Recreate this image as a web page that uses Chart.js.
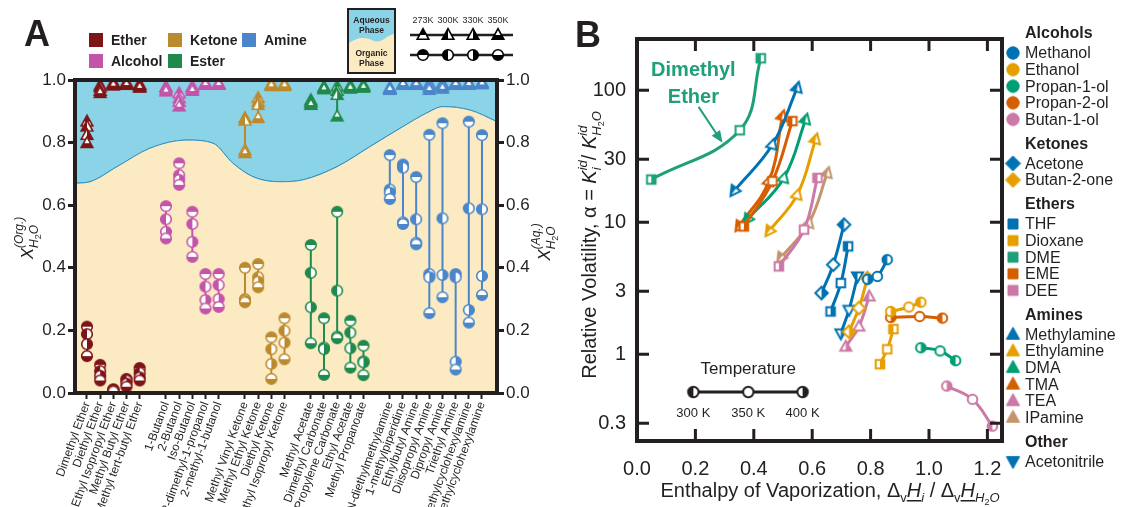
<!DOCTYPE html>
<html>
<head>
<meta charset="utf-8">
<script src="https://cdn.jsdelivr.net/npm/chart.js@4.4.1/dist/chart.umd.min.js"></script>
<style>
  body { margin: 0; background: #fff; }
  #wrap { position: relative; width: 1123px; height: 507px; overflow: hidden; }
  #chartA { position: absolute; left: 0; top: 0; }
  #chartB { position: absolute; left: 560px; top: 0; }
</style>
</head>
<body>
<div id="wrap">
  <canvas id="chartA" width="560" height="507"></canvas>
  <canvas id="chartB" width="563" height="507"></canvas>
</div>
<script>
// ---------- Panel A data: water mole fraction in each phase ----------
const compoundsA = [
  'Dimethyl Ether', 'Diethyl Ether', 'Ethyl Isopropyl Ether', 'Methyl Butyl Ether', 'Methyl tert-butyl Ether',
  '1-Butanol', '2-Butanol', 'Iso-Butanol', '2,2-dimethyl-1-propanol', '2-methyl-1-butanol',
  'Methyl Vinyl Ketone', 'Methyl Ethyl Ketone', 'Diethyl Ketone', 'Methyl Isopropyl Ketone',
  'Methyl Acetate', 'Dimethyl Carbonate', 'Propylene Carbonate', 'Ethyl Acetate', 'Methyl Propanoate',
  'N,N-diethylmethylamine', '1-methylpiperidine', 'Ethylbutyl Amine', 'Diisopropyl Amine',
  'Dipropyl Amine', 'Triethyl Amine', 'N-methylcyclohexylamine', 'N,N-dimethylcyclohexylamine'
];
const groupA = [
  'Ether', 'Ether', 'Ether', 'Ether', 'Ether',
  'Alcohol', 'Alcohol', 'Alcohol', 'Alcohol', 'Alcohol',
  'Ketone', 'Ketone', 'Ketone', 'Ketone',
  'Ester', 'Ester', 'Ester', 'Ester', 'Ester',
  'Amine', 'Amine', 'Amine', 'Amine', 'Amine', 'Amine', 'Amine', 'Amine'
];
const slotA = [0, 1, 2, 3, 4, 6, 7, 8, 9, 10, 12, 13, 14, 15, 17, 18, 19, 20, 21, 23, 24, 25, 26, 27, 28, 29, 30];
const tempsA = ['273K', '300K', '330K', '350K'];

// organic phase (circles), 273 / 300 / 330 / 350 K
const orgWaterA = [
  [0.212, 0.188, 0.156, 0.118], [0.09, 0.07, 0.055, 0.04], [0.012, 0.009, 0.007, 0.005],
  [0.045, 0.04, 0.03, 0.02], [0.08, 0.065, 0.05, 0.04],
  [0.597, 0.555, 0.515, 0.494], [0.734, 0.696, 0.681, 0.665], [0.579, 0.54, 0.483, 0.435],
  [0.38, 0.34, 0.297, 0.27], [0.38, 0.345, 0.30, 0.275],
  [0.40, 0.30, 0.295, 0.29], [0.412, 0.37, 0.356, 0.338], [0.178, 0.14, 0.093, 0.045], [0.239, 0.199, 0.161, 0.108],
  [0.473, 0.384, 0.274, 0.159], [0.239, 0.145, 0.14, 0.058], [0.579, 0.327, 0.18, 0.175],
  [0.231, 0.193, 0.143, 0.081], [0.151, 0.101, 0.098, 0.057],
  [0.76, 0.65, 0.64, 0.62], [0.73, 0.72, 0.545, 0.54], [0.69, 0.555, 0.48, 0.475], [0.825, 0.38, 0.37, 0.255],
  [0.862, 0.558, 0.377, 0.306], [0.38, 0.37, 0.1, 0.075], [0.867, 0.59, 0.265, 0.225], [0.824, 0.587, 0.374, 0.313]
];
// aqueous phase (triangles)
const aqWaterA = [
  [0.867, 0.851, 0.824, 0.798], [0.982, 0.976, 0.965, 0.958], [0.99, 0.988, 0.985, 0.982],
  [0.99, 0.988, 0.986, 0.984], [0.985, 0.982, 0.978, 0.975],
  [0.978, 0.975, 0.968, 0.963], [0.957, 0.941, 0.93, 0.915], [0.978, 0.975, 0.97, 0.965],
  [0.988, 0.986, 0.985, 0.984], [0.988, 0.986, 0.985, 0.984],
  [0.878, 0.87, 0.775, 0.766], [0.942, 0.93, 0.92, 0.878], [0.986, 0.984, 0.982, 0.98], [0.986, 0.984, 0.982, 0.98],
  [0.935, 0.93, 0.925, 0.92], [0.978, 0.975, 0.972, 0.97], [0.979, 0.965, 0.952, 0.883],
  [0.98, 0.978, 0.975, 0.972], [0.982, 0.98, 0.978, 0.975],
  [0.975, 0.972, 0.97, 0.968], [0.988, 0.986, 0.985, 0.984], [0.99, 0.988, 0.986, 0.984], [0.988, 0.982, 0.975, 0.968],
  [0.988, 0.984, 0.978, 0.972], [0.99, 0.988, 0.986, 0.984], [0.99, 0.988, 0.986, 0.984], [0.992, 0.99, 0.988, 0.986]
];
// boundary between the aqueous (top) and organic (bottom) shading
const phaseEdgeSlot = [-0.91, 0.23, 2.28, 4.78, 7.59, 9.57, 11.09, 12.61, 14.66, 16.4, 18.99, 21.49, 23.99, 25.82, 27.04, 29.09, 31.14];
const phaseEdgeX = [0.670, 0.675, 0.723, 0.782, 0.808, 0.798, 0.734, 0.691, 0.675, 0.681, 0.723, 0.787, 0.851, 0.895, 0.915, 0.904, 0.867];
const yTicksA = [0, 0.2, 0.4, 0.6, 0.8, 1.0];

// ---------- Panel B data: relative volatility vs enthalpy ratio (300, 350, 400 K) ----------
const speciesB = ['Methanol', 'Ethanol', 'Propan-1-ol', 'Propan-2-ol', 'Butan-1-ol',
  'Acetone', 'Butan-2-one', 'THF', 'Dioxane', 'DME', 'EME', 'DEE',
  'Methylamine', 'Ethylamine', 'DMA', 'TMA', 'TEA', 'IPamine', 'Acetonitrile'];
const familyB = ['Alcohols', 'Alcohols', 'Alcohols', 'Alcohols', 'Alcohols',
  'Ketones', 'Ketones', 'Ethers', 'Ethers', 'Ethers', 'Ethers', 'Ethers',
  'Amines', 'Amines', 'Amines', 'Amines', 'Amines', 'Amines', 'Other'];
const enthalpyB = [
  [0.857, 0.823, 0.79], [0.972, 0.931, 0.869], [1.091, 1.038, 0.972], [1.046, 0.968, 0.869], [1.217, 1.149, 1.061],
  [0.709, 0.672, 0.632], [0.789, 0.76, 0.726],
  [0.723, 0.698, 0.663], [0.878, 0.857, 0.832], [0.424, 0.352, 0.049], [0.532, 0.464, 0.366], [0.618, 0.572, 0.486],
  [0.549, 0.464, 0.332], [0.612, 0.549, 0.452], [0.578, 0.503, 0.378], [0.498, 0.452, 0.349],
  [0.795, 0.76, 0.715], [0.652, 0.589, 0.492], [0.755, 0.726, 0.698]
];
const volatilityB = [
  [5.21, 3.89, 3.7], [2.48, 2.28, 2.11], [0.894, 1.06, 1.12], [1.88, 1.93, 1.90], [0.285, 0.455, 0.574],
  [9.6, 4.77, 2.91], [3.78, 2.24, 1.48],
  [6.57, 3.46, 2.11], [1.55, 1.09, 0.84], [175, 49.8, 21.1], [58.5, 20.5, 9.3], [21.7, 8.8, 4.63],
  [105, 38.9, 17.2], [42.7, 16.2, 8.54], [60.3, 21.7, 10.5], [63.9, 20.5, 9.3],
  [2.74, 1.62, 1.14], [23.7, 9.9, 5.36], [3.89, 2.17, 1.44]
];
const tempsB = ['300 K', '350 K', '400 K'];
const xTicksB = [0, 0.2, 0.4, 0.6, 0.8, 1.0, 1.2];
const yTicksB = [0.3, 1, 3, 10, 30, 100];

// ---------- styles ----------
const FONT = '"Liberation Sans", Arial, sans-serif';
const INK = '#231F20';
Chart.defaults.font.family = FONT;
Chart.defaults.color = INK;

const colorsA = { Ether: '#7D1417', Alcohol: '#C255AA', Ketone: '#BC8A2E', Ester: '#1F8A4C', Amine: '#4A86C9' };
const fillA = ['top', 'left', 'right', 'bottom'];
const colorsB = ['#0072B2', '#E69F00', '#009E73', '#D55E00', '#CC79A7',
  '#0072B2', '#E69F00', '#0072B2', '#E69F00', '#1FA07A', '#D55E00', '#CC79A7',
  '#0072B2', '#E69F00', '#009E73', '#D55E00', '#CC79A7', '#C4956A', '#0072B2'];
const shapeB = { Alcohols: 'circle', Ketones: 'diamond', Ethers: 'square', Amines: 'triangle', Other: 'triangleDown' };
const fillB = ['left', 'open', 'right'];

// marker images with partial fills (temperature code)
function shapePath(g, shape, c, r) {
  g.beginPath();
  if (shape === 'circle') g.arc(c, c, r, 0, Math.PI * 2);
  else if (shape === 'square') g.rect(c - r, c - r, 2 * r, 2 * r);
  else if (shape === 'diamond') { g.moveTo(c, c - r * 1.25); g.lineTo(c + r * 1.25, c); g.lineTo(c, c + r * 1.25); g.lineTo(c - r * 1.25, c); g.closePath(); }
  else if (shape === 'triangle') { g.moveTo(c, c - r * 1.2); g.lineTo(c + r * 1.1, c + r * 0.8); g.lineTo(c - r * 1.1, c + r * 0.8); g.closePath(); }
  else if (shape === 'triangleDown') { g.moveTo(c, c + r * 1.2); g.lineTo(c + r * 1.1, c - r * 0.8); g.lineTo(c - r * 1.1, c - r * 0.8); g.closePath(); }
}
const markerCache = {};
function makeMarker(shape, color, fill, r, lw) {
  const key = [shape, color, fill, r, lw].join('|');
  if (markerCache[key]) return markerCache[key];
  const s = Math.ceil(2 * r * 1.3 + lw + 2);
  const cv = document.createElement('canvas');
  cv.width = cv.height = s;
  const g = cv.getContext('2d');
  const c = s / 2;
  shapePath(g, shape, c, r);
  g.fillStyle = fill === 'full' ? color : '#fff';
  g.fill();
  if (fill !== 'full' && fill !== 'open') {
    g.save();
    shapePath(g, shape, c, r);
    g.clip();
    g.fillStyle = color;
    if (fill === 'top') g.fillRect(0, 0, s, c);
    if (fill === 'bottom') g.fillRect(0, c, s, s - c);
    if (fill === 'left') g.fillRect(0, 0, c, s);
    if (fill === 'right') g.fillRect(c, 0, s - c, s);
    g.restore();
  }
  shapePath(g, shape, c, r);
  g.lineWidth = lw;
  g.strokeStyle = color;
  g.stroke();
  markerCache[key] = cv;
  return cv;
}

// text with sub/superscripts
function drawRich(ctx, segs, cx, cy, rot) {
  const marks = {};
  let x = 0, maxX = 0;
  segs.forEach(s => {
    ctx.font = s.f;
    if (s.from) x = marks[s.from];
    s.x = x;
    s.w = ctx.measureText(s.t).width;
    x += s.w;
    maxX = Math.max(maxX, x);
    if (s.mark) marks[s.mark] = x;
  });
  ctx.save();
  ctx.translate(cx, cy);
  ctx.rotate(rot || 0);
  ctx.textAlign = 'left';
  ctx.textBaseline = 'alphabetic';
  ctx.fillStyle = INK;
  segs.forEach(s => {
    ctx.font = s.f;
    ctx.fillText(s.t, s.x - maxX / 2, s.dy || 0);
    if (s.ul) ctx.fillRect(s.x - maxX / 2, (s.dy || 0) + 3, s.w, 1.5);
  });
  ctx.restore();
}
const f = (px, style) => (style ? style + ' ' : '') + px + 'px ' + FONT;

// ---------- Panel A ----------
const nameBySlot = {};
slotA.forEach((s, i) => { nameBySlot[s] = compoundsA[i]; });

const edgePoints = phaseEdgeSlot.map((s, i) => ({ x: s, y: phaseEdgeX[i] }));
const datasetsA = [
  { data: edgePoints, fill: 'start', backgroundColor: '#FCEBC2', borderColor: '#2D8FC2', borderWidth: 1,
    pointRadius: 0, cubicInterpolationMode: 'monotone', order: 10 },
  { data: edgePoints, fill: 'end', backgroundColor: '#8BD4E7', borderColor: '#2D8FC2', borderWidth: 1,
    pointRadius: 0, cubicInterpolationMode: 'monotone', order: 10 }
];
compoundsA.forEach((name, i) => {
  const col = colorsA[groupA[i]];
  [['circle', orgWaterA[i], 5.3], ['triangle', aqWaterA[i], 5.3]].forEach(([shape, vals, r]) => {
    datasetsA.push({
      label: name,
      data: vals.map(v => ({ x: slotA[i], y: v })),
      borderColor: col, borderWidth: 2, fill: false,
      pointStyle: vals.map((v, k) => makeMarker(shape, col, fillA[k], r, 1.6)),
      pointRadius: 6, order: 0
    });
  });
});

const panelAPlugin = {
  id: 'panelA',
  afterDraw(chart) {
    const { ctx, chartArea: a } = chart;
    ctx.save();
    ctx.strokeStyle = INK;
    ctx.lineWidth = 4;
    ctx.strokeRect(a.left, a.top, a.right - a.left, a.bottom - a.top);

    ctx.fillStyle = INK;
    ctx.font = f(36, 'bold');
    ctx.textBaseline = 'alphabetic';
    ctx.fillText('A', 24, 46);

    // group legend
    const legend = [['Ether', 89, 40], ['Ketone', 168, 40], ['Amine', 242, 40], ['Alcohol', 89, 61], ['Ester', 168, 61]];
    ctx.font = f(14, 'bold');
    ctx.textBaseline = 'middle';
    legend.forEach(([g, x, y]) => {
      ctx.fillStyle = colorsA[g];
      ctx.fillRect(x, y - 7, 14, 14);
      ctx.fillStyle = INK;
      ctx.fillText(g, x + 22, y + 1);
    });

    // phase key box
    const bx = 348, by = 9, bw = 47, bh = 64;
    ctx.fillStyle = '#FCEBC2';
    ctx.fillRect(bx, by, bw, bh);
    ctx.beginPath();
    ctx.moveTo(bx, by);
    ctx.lineTo(bx + bw, by);
    ctx.lineTo(bx + bw, by + 25);
    ctx.bezierCurveTo(bx + 38, by + 26, bx + 34, by + 35, bx + 26, by + 32);
    ctx.bezierCurveTo(bx + 18, by + 28, bx + 10, by + 27, bx, by + 35);
    ctx.closePath();
    ctx.fillStyle = '#8BD4E7';
    ctx.fill();
    ctx.lineWidth = 2;
    ctx.strokeStyle = INK;
    ctx.strokeRect(bx, by, bw, bh);
    ctx.fillStyle = INK;
    ctx.font = f(8.5, 'bold');
    ctx.textAlign = 'center';
    ctx.fillText('Aqueous', bx + bw / 2, by + 12);
    ctx.fillText('Phase', bx + bw / 2, by + 22);
    ctx.fillText('Organic', bx + bw / 2, by + 45);
    ctx.fillText('Phase', bx + bw / 2, by + 55);

    // temperature key
    ctx.lineWidth = 2.5;
    ctx.beginPath();
    ctx.moveTo(410, 35); ctx.lineTo(513, 35);
    ctx.moveTo(410, 55); ctx.lineTo(513, 55);
    ctx.stroke();
    ctx.font = f(9);
    tempsA.forEach((t, k) => {
      const x = 423 + k * 25;
      ctx.fillStyle = INK;
      ctx.fillText(t, x, 21);
      const tri = makeMarker('triangle', '#000', fillA[k], 5.3, 1.6);
      const cir = makeMarker('circle', '#000', fillA[k], 5.3, 1.6);
      ctx.drawImage(tri, x - tri.width / 2, 35 - tri.height / 2);
      ctx.drawImage(cir, x - cir.width / 2, 55 - cir.height / 2);
    });

    // axis titles
    drawRich(ctx, [
      { t: 'X', f: f(17, 'italic'), mark: 'b' },
      { t: 'H', f: f(12, 'italic'), dy: 5 }, { t: '2', f: f(9), dy: 8 }, { t: 'O', f: f(12, 'italic'), dy: 5 },
      { t: '(Org.)', f: f(12, 'italic'), dy: -10, from: 'b' }
    ], 33, 238, -Math.PI / 2);
    drawRich(ctx, [
      { t: 'X', f: f(17, 'italic'), mark: 'b' },
      { t: 'H', f: f(12, 'italic'), dy: 5 }, { t: '2', f: f(9), dy: 8 }, { t: 'O', f: f(12, 'italic'), dy: 5 },
      { t: '(Aq.)', f: f(12, 'italic'), dy: -10, from: 'b' }
    ], 550, 242, -Math.PI / 2);
    ctx.restore();
  }
};

const yAxisA = (pos, width) => ({
  type: 'linear', position: pos, min: 0, max: 1,
  afterBuildTicks: ax => { ax.ticks = yTicksA.map(v => ({ value: v })); },
  afterFit: ax => { ax.width = width; },
  ticks: { font: { size: 17 }, color: INK, padding: 2, callback: v => v.toFixed(1) },
  grid: { drawOnChartArea: false, drawTicks: true, tickLength: 7, tickWidth: 3, color: INK },
  border: { display: false }
});

new Chart(document.getElementById('chartA'), {
  type: 'line',
  data: { datasets: datasetsA },
  options: {
    responsive: false,
    animation: false,
    layout: { padding: { top: 80, left: 0, right: 0, bottom: 0 } },
    plugins: { legend: { display: false }, tooltip: { enabled: false } },
    scales: {
      x: {
        type: 'linear', position: 'bottom', min: -0.91, max: 31.14,
        afterBuildTicks: ax => { ax.ticks = slotA.map(v => ({ value: v })); },
        afterFit: ax => { ax.height = 114; },
        ticks: { autoSkip: false, minRotation: 70, maxRotation: 70, font: { size: 12 }, color: INK, padding: 1,
          callback: v => nameBySlot[v] || '' },
        grid: { drawOnChartArea: false, drawTicks: true, tickLength: 6, tickWidth: 2, color: INK },
        border: { display: false }
      },
      y: yAxisA('left', 75),
      y2: yAxisA('right', 63)
    }
  },
  plugins: [panelAPlugin]
});

// ---------- Panel B ----------
const datasetsB = speciesB.map((name, i) => {
  const shape = shapeB[familyB[i]];
  const col = colorsB[i];
  const r = shape === 'square' ? 4.3 : shape === 'circle' ? 4.8 : 5;
  const arrowed = shape === 'triangle' && name !== 'TEA';
  return {
    label: name,
    data: enthalpyB[i].map((x, k) => ({ x: x, y: volatilityB[i][k] })),
    borderColor: col, borderWidth: 3, tension: 0.4, fill: false,
    pointStyle: fillB.map(fl => makeMarker(shape, col, fl, r, 2)),
    pointRotation: fillB.map((fl, k) => (arrowed ? (k === 2 ? 215 : 15) : 0)),
    pointRadius: 5
  };
});

const legendRowsB = [];
(function () {
  let y = 34;
  ['Alcohols', 'Ketones', 'Ethers', 'Amines', 'Other'].forEach(fam => {
    legendRowsB.push({ header: fam, y: y });
    y += 19;
    speciesB.forEach((s, i) => {
      if (familyB[i] !== fam) return;
      legendRowsB.push({ name: s, i: i, y: y });
      y += 16.6;
    });
    y += 8.4;
  });
})();

const panelBPlugin = {
  id: 'panelB',
  afterDraw(chart) {
    const { ctx, chartArea: a, scales } = chart;
    const xs = scales.x, ys = scales.y;
    ctx.save();
    ctx.strokeStyle = INK;
    ctx.lineWidth = 4;
    ctx.strokeRect(a.left, a.top, a.right - a.left, a.bottom - a.top);
    // inward ticks
    ctx.lineWidth = 3;
    ctx.beginPath();
    xTicksB.slice(1).forEach(v => {
      const px = xs.getPixelForValue(v);
      ctx.moveTo(px, a.bottom); ctx.lineTo(px, a.bottom - 12);
      ctx.moveTo(px, a.top); ctx.lineTo(px, a.top + 12);
    });
    yTicksB.forEach(v => {
      const py = ys.getPixelForValue(v);
      ctx.moveTo(a.left, py); ctx.lineTo(a.left + 12, py);
      ctx.moveTo(a.right, py); ctx.lineTo(a.right - 12, py);
    });
    ctx.stroke();

    ctx.fillStyle = INK;
    ctx.font = f(36, 'bold');
    ctx.textBaseline = 'alphabetic';
    ctx.fillText('B', 15, 47);

    // Dimethyl Ether annotation
    const green = '#1FA07A';
    ctx.fillStyle = green;
    ctx.font = f(20, 'bold');
    ctx.textAlign = 'center';
    ctx.fillText('Dimethyl', xs.getPixelForValue(0.193), ys.getPixelForValue(144) + 7);
    ctx.fillText('Ether', xs.getPixelForValue(0.193), ys.getPixelForValue(90) + 7);
    const p1 = { x: xs.getPixelForValue(0.211), y: ys.getPixelForValue(75) };
    const p2 = { x: xs.getPixelForValue(0.293), y: ys.getPixelForValue(40) };
    const ang = Math.atan2(p2.y - p1.y, p2.x - p1.x);
    ctx.strokeStyle = green;
    ctx.lineWidth = 2;
    ctx.beginPath();
    ctx.moveTo(p1.x, p1.y);
    ctx.lineTo(p2.x - 8 * Math.cos(ang), p2.y - 8 * Math.sin(ang));
    ctx.stroke();
    ctx.beginPath();
    ctx.moveTo(p2.x, p2.y);
    ctx.lineTo(p2.x - 12 * Math.cos(ang) + 5 * Math.sin(ang), p2.y - 12 * Math.sin(ang) - 5 * Math.cos(ang));
    ctx.lineTo(p2.x - 12 * Math.cos(ang) - 5 * Math.sin(ang), p2.y - 12 * Math.sin(ang) + 5 * Math.cos(ang));
    ctx.closePath();
    ctx.fillStyle = green;
    ctx.fill();

    // temperature key
    const ty = ys.getPixelForValue(0.517);
    const tx = [0.193, 0.381, 0.567].map(v => xs.getPixelForValue(v));
    ctx.strokeStyle = INK;
    ctx.lineWidth = 3;
    ctx.beginPath();
    ctx.moveTo(tx[0], ty); ctx.lineTo(tx[2], ty);
    ctx.stroke();
    ctx.fillStyle = INK;
    ctx.font = f(17);
    ctx.fillText('Temperature', tx[1], ty - 18);
    ctx.font = f(13);
    tempsB.forEach((t, k) => {
      const m = makeMarker('circle', INK, fillB[k], 5.2, 2);
      ctx.drawImage(m, tx[k] - m.width / 2, ty - m.height / 2);
      ctx.fillStyle = INK;
      ctx.fillText(t, tx[k], ty + 25);
    });

    // right legend
    ctx.textAlign = 'left';
    ctx.textBaseline = 'middle';
    legendRowsB.forEach(row => {
      ctx.fillStyle = INK;
      if (row.header) {
        ctx.font = f(16, 'bold');
        ctx.fillText(row.header, 465, row.y);
        return;
      }
      const shape = shapeB[familyB[row.i]];
      const r = shape === 'square' ? 5 : shape === 'circle' ? 6.2 : 6;
      const m = makeMarker(shape, colorsB[row.i], 'full', r, 1);
      ctx.drawImage(m, 453 - m.width / 2, row.y - m.height / 2);
      ctx.font = f(16);
      ctx.fillText(row.name, 465, row.y + 1);
    });

    // axis titles
    drawRich(ctx, [
      { t: 'Relative Volatility, \u03b1 = ', f: f(20) },
      { t: 'K', f: f(20, 'italic'), mark: 'k1' },
      { t: 'i', f: f(13, 'italic'), dy: 5 },
      { t: 'id', f: f(13, 'italic'), dy: -9, from: 'k1' },
      { t: '/ ', f: f(20) },
      { t: 'K', f: f(20, 'italic'), mark: 'k2' },
      { t: 'H', f: f(13, 'italic'), dy: 5 }, { t: '2', f: f(9), dy: 8 }, { t: 'O', f: f(13, 'italic'), dy: 5 },
      { t: 'id', f: f(13, 'italic'), dy: -9, from: 'k2' }
    ], 36, 245, -Math.PI / 2);
    drawRich(ctx, [
      { t: 'Enthalpy of Vaporization, \u0394', f: f(20) },
      { t: 'v', f: f(13), dy: 5 },
      { t: 'H', f: f(20, 'italic'), ul: true },
      { t: 'i', f: f(13, 'italic'), dy: 5 },
      { t: ' / \u0394', f: f(20) },
      { t: 'v', f: f(13), dy: 5 },
      { t: 'H', f: f(20, 'italic'), ul: true },
      { t: 'H', f: f(13, 'italic'), dy: 5 }, { t: '2', f: f(9), dy: 8 }, { t: 'O', f: f(13, 'italic'), dy: 5 }
    ], 270, 497, 0);
    ctx.restore();
  }
};

new Chart(document.getElementById('chartB'), {
  type: 'line',
  data: { datasets: datasetsB },
  options: {
    responsive: false,
    animation: false,
    layout: { padding: { top: 39, right: 121, left: 0, bottom: 0 } },
    plugins: { legend: { display: false }, tooltip: { enabled: false } },
    scales: {
      x: {
        type: 'linear', min: 0, max: 1.25,
        afterBuildTicks: ax => { ax.ticks = xTicksB.map(v => ({ value: v })); },
        afterFit: ax => { ax.height = 66; },
        ticks: { font: { size: 20 }, color: INK, padding: 8, callback: v => v.toFixed(1) },
        grid: { display: false },
        border: { display: false }
      },
      y: {
        type: 'logarithmic', min: 0.22, max: 245,
        afterBuildTicks: ax => { ax.ticks = yTicksB.map(v => ({ value: v })); },
        afterFit: ax => { ax.width = 77; },
        ticks: { font: { size: 20 }, color: INK, padding: 3, callback: v => String(v) },
        grid: { display: false },
        border: { display: false }
      }
    }
  },
  plugins: [panelBPlugin]
});
</script>
</body>
</html>
